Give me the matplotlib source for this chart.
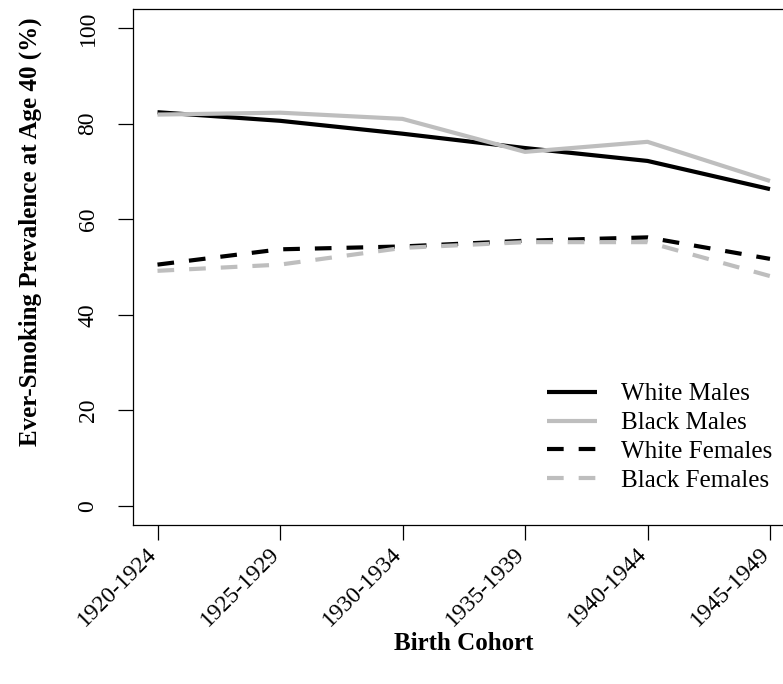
import matplotlib
matplotlib.use("Agg")
import matplotlib.pyplot as plt
import matplotlib.transforms as mtransforms
import numpy as np

# Birth cohorts and ever-smoking prevalence at age 40 (%)
cohorts = ["1920-1924", "1925-1929", "1930-1934", "1935-1939", "1940-1944", "1945-1949"]
white_males = [82.4, 80.6, 77.9, 74.9, 72.2, 66.3]
black_males = [81.9, 82.3, 81.0, 74.1, 76.2, 68.0]
white_females = [50.5, 53.7, 54.3, 55.5, 56.2, 51.7]
black_females = [49.2, 50.5, 54.0, 55.2, 55.2, 48.1]
y_ticks = [0, 20, 40, 60, 80, 100]

plt.rcParams["font.family"] = ["Liberation Serif", "DejaVu Serif"]

W, H = 783, 684
fig = plt.figure(figsize=(W / 100, H / 100), dpi=100)
left, right, top, bottom = 133.0, 794.5, 9.0, 525.0
ax = fig.add_axes([left / W, 1 - bottom / H, (right - left) / W, (bottom - top) / H])

x = np.arange(1, len(cohorts) + 1)
gray = "#BEBEBE"
lw = 3.0
dash = (4.0, 3.6)

ax.plot(x, white_males, color="black", lw=lw, solid_capstyle="butt", label="White Males")
ax.plot(x, black_males, color=gray, lw=lw, solid_capstyle="butt", label="Black Males")
ax.plot(x, white_females, color="black", lw=lw, dashes=dash, dash_capstyle="butt",
        label="White Females")
ax.plot(x, black_females, color=gray, lw=lw, dashes=dash, dash_capstyle="butt",
        label="Black Females")

ax.set_xlim(0.8, 6.2)
ax.set_ylim(-4, 104)

for s in ax.spines.values():
    s.set_linewidth(0.9)

ax.tick_params(axis="both", direction="out", length=10.8, width=0.9)
ax.set_yticks(y_ticks)
ax.set_yticklabels([str(v) for v in y_ticks], rotation=90, va="center", fontsize=17)
ax.tick_params(axis="y", pad=14)

ax.set_xticks(x)
ax.set_xticklabels(cohorts, rotation=45, ha="right", va="center",
                   rotation_mode="anchor", fontsize=17)
ax.tick_params(axis="x", pad=8)
shift = mtransforms.ScaledTranslation(-4 / 100, 0, fig.dpi_scale_trans)
for lbl in ax.get_xticklabels():
    lbl.set_transform(lbl.get_transform() + shift)

fig.text(30 / W, 1 - 232 / H, "Ever-Smoking Prevalence at Age 40 (%)", rotation=90,
         ha="center", va="center", fontsize=18, fontweight="bold")
fig.text(463.8 / W, 1 - 643 / H, "Birth Cohort", ha="center", va="center",
         fontsize=18, fontweight="bold")

ax.legend(loc="upper left", bbox_to_anchor=(547 / W, 1 - 383 / H),
          bbox_transform=fig.transFigure, frameon=False, fontsize=18,
          handlelength=2.0, handletextpad=0.95, labelspacing=0.25,
          borderpad=0, borderaxespad=0)

fig.savefig("out.png", dpi=100)
